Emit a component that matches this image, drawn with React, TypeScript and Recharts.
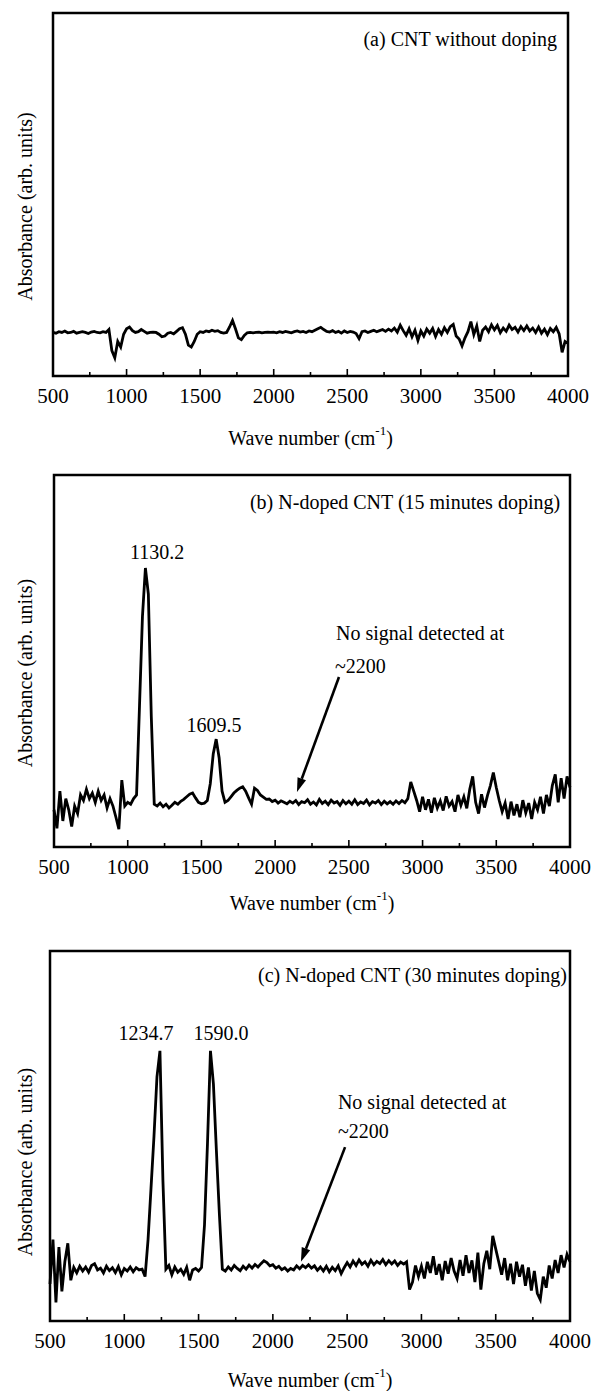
import React from 'react';
import { LineChart, Line, XAxis, YAxis, ReferenceArea, ReferenceDot, ReferenceLine } from 'recharts';

const FONT = '"Liberation Serif", "Times New Roman", serif';

// spectra, one value every 20 cm-1 from 500 to 4000
// (0 = bottom of the frame, 100 = top)
const WAVE_START = 500;
const WAVE_STEP = 20;

const ABS_A = [
  12, 11.8, 12.2, 12, 12.4, 11.9, 12, 12.3, 11.8, 12,
  12.2, 12, 11.7, 12.1, 12.3, 12, 11.9, 12.2, 12, 12.8,
  7, 5, 9.5, 8, 11.5, 13, 13.5, 12.5, 12, 12.2,
  12.8, 12.3, 11.8, 12, 12.1, 12, 11.5, 10.8, 11, 11.8,
  12, 11.6, 12.3, 13, 13.3, 11.5, 8.5, 8, 9.5, 11.5,
  12.2, 12, 12.4, 12.2, 12.6, 12.3, 12.5, 12, 11.8, 12,
  13.5, 15.3, 13, 10.5, 10, 11.2, 11.9, 12, 11.9, 12,
  12.1, 11.9, 12, 12.1, 12, 12.1, 11.9, 12.2, 12, 12.3,
  12.1, 11.9, 12.2, 12.4, 12.1, 12.3, 12, 12.4, 12.2, 12.6,
  13, 13.4, 12.8, 12.3, 12.1, 12.5, 12, 12.3, 11.8, 12.4,
  12, 12.3, 12.1, 11.7, 10.3, 12.2, 12.4, 12, 12.3, 12.6,
  12.2, 12.5, 12.8, 12.3, 12.9, 12.4, 13.2, 12.1, 14, 12.5,
  11.2, 13, 10.8, 12.6, 9.8, 12.4, 11, 12.9, 11.8, 13.1,
  10.9, 12.8, 11.5, 13.3, 12, 13.6, 14.2, 11, 10.2, 8.3,
  10.5, 12.2, 15, 11.4, 13.8, 9.5, 12.6, 13.5, 12.2, 14.1,
  12.7, 13.9, 11.9, 13.2, 12.3, 14, 12.8, 13.4, 12.1, 13.6,
  12.5, 13.8, 12.4, 13.2, 12, 13.5, 11.8, 12.9, 11.4, 13.1,
  12.2, 13.4, 11.6, 6.5, 9.5, 9,
];

const ABS_B = [
  10, 5, 15, 7, 13, 10, 5.5, 11, 9, 14,
  12.5, 15.5, 13, 14.5, 12, 15, 12.5, 14, 10.5, 13,
  11, 8, 4.8, 18, 11, 12, 11.5, 13, 14, 38,
  62, 75, 68, 35, 11.5, 11, 11.8, 10.8, 11.5, 10.5,
  11.2, 12, 11.5, 12.3, 12.8, 13.5, 14.2, 14.5, 13.2, 12,
  11.6, 11.8, 12.5, 17, 25, 29, 24, 15, 12, 12.5,
  13.5, 14.5, 15.2, 15.8, 16.2, 15, 13.2, 11.5, 15.8, 15.2,
  14, 13.4, 12.8, 12.9, 12.2, 12.6, 11.8, 12.4, 12, 11.6,
  12.3, 11.8, 12.5, 11.4, 12.2, 11.9, 12.7, 11.5, 12.1, 11.3,
  12.8, 11.7, 12.3, 11.4, 12.6, 11.8, 12.2, 11.2, 12.5, 11.6,
  12.3, 11.5, 12.7, 11.4, 12.1, 11.7, 12.6, 11.3, 12.2, 11.8,
  12.5, 11.4, 12.3, 11.6, 12.2, 11.5, 12.4, 11.7, 12.5, 11.9,
  13, 17.5, 15, 12.5, 9.5, 13.5, 10, 12.8, 9.2, 13.2,
  10.5, 12.4, 9.8, 13.6, 11, 12.2, 9.5, 14, 11.2, 13.5,
  10.4, 15.5, 19, 12, 9, 14.2, 10.6, 13.8, 16.5, 20,
  16, 12.5, 9.5, 11.8, 7.5, 12.2, 8.5, 11.5, 8, 12.6,
  9.2, 11.8, 7.5, 12, 10, 13.5, 9, 14, 11, 16.5,
  19.5, 12, 18.5, 13, 19, 16,
];

const ABS_C = [
  10, 22, 5, 20, 8, 16, 21, 11, 14.5, 13,
  14.8, 13.5, 14.6, 13.2, 15, 15.5, 13.8, 14.3, 13, 14.8,
  13.6, 14.4, 13.1, 14.7, 12.5, 14.2, 13.5, 14.6, 13.3, 14.4,
  13.8, 14, 12, 22, 36, 50, 66, 73, 38, 14,
  15, 12.5, 14.6, 13.2, 14, 12.6, 14.5, 11, 13.8, 14.2,
  13.5, 14.5, 26, 48, 73, 64, 46, 29, 14, 13.5,
  14.6, 13.8, 15, 14.2, 13.6, 14.8, 14, 15.1, 14.3, 15.3,
  14.6, 15.5, 16.3, 15.8, 14.9, 15.2, 14.3, 14.8, 13.9, 14.4,
  13.5, 14.2, 13.8, 14.9, 14.1, 15, 14.4, 15.2, 14.3, 14.9,
  13.7, 14.6, 13.5, 14.8, 13.3, 14.5, 13.6, 14.9, 12.8, 14.4,
  15.8, 14.6, 16.2, 15, 16.5, 15.3, 16, 14.8, 16.4, 15.2,
  16.1, 15.5, 16.6, 15.2, 16.3, 15.4, 16.2, 15, 15.9, 15.4,
  16, 8.5, 10.5, 15, 12, 14.8, 11.5, 16, 13, 17.5,
  12.5, 15.4, 11, 16.2, 12.8, 17, 13.5, 11.5, 16.5, 12.2,
  17.8, 13, 16.4, 10.5, 18.5, 8.5, 15.5, 19, 14, 23,
  19.5, 16, 12.5, 17, 11, 15.5, 10, 16, 12, 15.2,
  9.5, 14.5, 8.2, 13.5, 7.5, 5.8, 12, 9, 15, 11.5,
  16.5, 13, 17.8, 14.5, 18, 16,
];

const X_TICKS = [500, 750, 1000, 1250, 1500, 1750, 2000, 2250, 2500, 2750, 3000, 3250, 3500, 3750, 4000];

const toRows = (vals: number[]) => vals.map((v, i) => ({ wn: WAVE_START + WAVE_STEP * i, v }));

type Note = { wn: number; y: number; text: string; anchor?: 'start' | 'middle' | 'end' };
type Arrow = { from: { x: number; y: number }; to: { x: number; y: number } };

function XTick(props: any) {
  const { x, y, payload } = props;
  const major = payload.value % 500 === 0;
  return (
    <g>
      <line x1={x} y1={y} x2={x} y2={y - (major ? 7 : 4)} stroke="#000" strokeWidth={1.6} />
      {major && (
        <text x={x} y={y + 20} textAnchor="middle" dominantBaseline="central" fontFamily={FONT} fontSize={21} fill="#000">
          {payload.value}
        </text>
      )}
    </g>
  );
}

function arrowShape(p: any) {
  const { x1, y1, x2, y2 } = p;
  const ang = Math.atan2(y2 - y1, x2 - x1);
  const len = 14;
  const half = 4.5;
  const bx = x2 - len * Math.cos(ang);
  const by = y2 - len * Math.sin(ang);
  const px = -Math.sin(ang) * half;
  const py = Math.cos(ang) * half;
  return (
    <g>
      <line x1={x1} y1={y1} x2={bx} y2={by} stroke="#000" strokeWidth={2.6} />
      <polygon points={`${x2},${y2} ${bx + px},${by + py} ${bx - px},${by - py}`} fill="#000" />
    </g>
  );
}

interface PanelProps {
  top: number;
  height: number;
  left: number;
  right: number;
  plotTop: number;
  axisH: number;
  xLabelDy: number;
  yLabelDy: number;
  values: number[];
  notes: Note[];
  arrow?: Arrow;
}

function Panel({ top, height, left, right, plotTop, axisH, xLabelDy, yLabelDy, values, notes, arrow }: PanelProps) {
  const data = toRows(values);
  return (
    <div style={{ position: 'absolute', left: 0, top }}>
      <LineChart width={592} height={height} data={data} margin={{ top: plotTop, right: 592 - right, bottom: 0, left: 0 }}>
        <XAxis
          dataKey="wn"
          type="number"
          domain={[500, 4000]}
          ticks={X_TICKS}
          interval={0}
          height={axisH}
          axisLine={false}
          tickLine={false}
          tickSize={0}
          tickMargin={0}
          tick={<XTick />}
          label={(p: any) => {
            const vb = p.viewBox;
            return (
              <text x={vb.x + vb.width / 2} y={vb.y + xLabelDy} textAnchor="middle" dominantBaseline="central" fontFamily={FONT} fontSize={20} fill="#000">
                Wave number (cm<tspan dy={-8} fontSize={13}>-1</tspan><tspan dy={8}>)</tspan>
              </text>
            );
          }}
        />
        <YAxis
          type="number"
          domain={[0, 100]}
          width={left}
          axisLine={false}
          tickLine={false}
          tick={false}
          label={(p: any) => {
            const vb = p.viewBox;
            const cx = 25;
            const cy = vb.y + vb.height / 2 + yLabelDy;
            return (
              <text x={cx} y={cy} transform={`rotate(-90 ${cx} ${cy})`} textAnchor="middle" dominantBaseline="central" fontFamily={FONT} fontSize={20} fill="#000">
                Absorbance (arb. units)
              </text>
            );
          }}
        />
        <Line type="linear" dataKey="v" stroke="#000" strokeWidth={2.8} dot={false} isAnimationActive={false} />
        <ReferenceArea x1={500} x2={4000} y1={0} y2={100} fill="none" stroke="#000" strokeWidth={2.5} />
        {arrow && <ReferenceLine segment={[arrow.from, arrow.to]} shape={arrowShape} />}
        {notes.map((n) => (
          <ReferenceDot
            key={n.text}
            x={n.wn}
            y={n.y}
            r={0}
            shape={(p: any) => (
              <text x={p.cx} y={p.cy} textAnchor={n.anchor || 'middle'} dominantBaseline="central" fontFamily={FONT} fontSize={20} fill="#000">
                {n.text}
              </text>
            )}
          />
        ))}
      </LineChart>
    </div>
  );
}

const NOTES_A: Note[] = [{ wn: 3925, y: 92.8, text: '(a) CNT without doping', anchor: 'end' }];

const NOTES_B: Note[] = [
  { wn: 3933, y: 92.7, text: '(b) N-doped CNT (15 minutes doping)', anchor: 'end' },
  { wn: 1199, y: 79.3, text: '1130.2' },
  { wn: 1585, y: 32.8, text: '1609.5' },
  { wn: 2413, y: 57.5, text: 'No signal detected at', anchor: 'start' },
  { wn: 2406, y: 48.7, text: '~2200', anchor: 'start' },
];
const ARROW_B: Arrow = { from: { x: 2433, y: 45.7 }, to: { x: 2148, y: 14.8 } };

const NOTES_C: Note[] = [
  { wn: 3980, y: 93.5, text: '(c) N-doped CNT (30 minutes doping)', anchor: 'end' },
  { wn: 1146, y: 77.8, text: '1234.7' },
  { wn: 1651, y: 77.8, text: '1590.0' },
  { wn: 2438, y: 59.2, text: 'No signal detected at', anchor: 'start' },
  { wn: 2438, y: 51.4, text: '~2200', anchor: 'start' },
];
const ARROW_C: Arrow = { from: { x: 2486, y: 47 }, to: { x: 2189, y: 16 } };

export default function App() {
  return (
    <div style={{ position: 'absolute', left: 0, top: 0, width: 592, height: 1391, background: '#fff', overflow: 'hidden' }}>
      <Panel top={0} height={470} left={53} right={568} plotTop={13} axisH={94} xLabelDy={62} yLabelDy={12} values={ABS_A} notes={NOTES_A} />
      <Panel top={470} height={475} left={54} right={570} plotTop={5} axisH={98} xLabelDy={56} yLabelDy={12} values={ABS_B} notes={NOTES_B} arrow={ARROW_B} />
      <Panel top={945} height={446} left={50} right={570} plotTop={6} axisH={70} xLabelDy={59} yLabelDy={26} values={ABS_C} notes={NOTES_C} arrow={ARROW_C} />
    </div>
  );
}
